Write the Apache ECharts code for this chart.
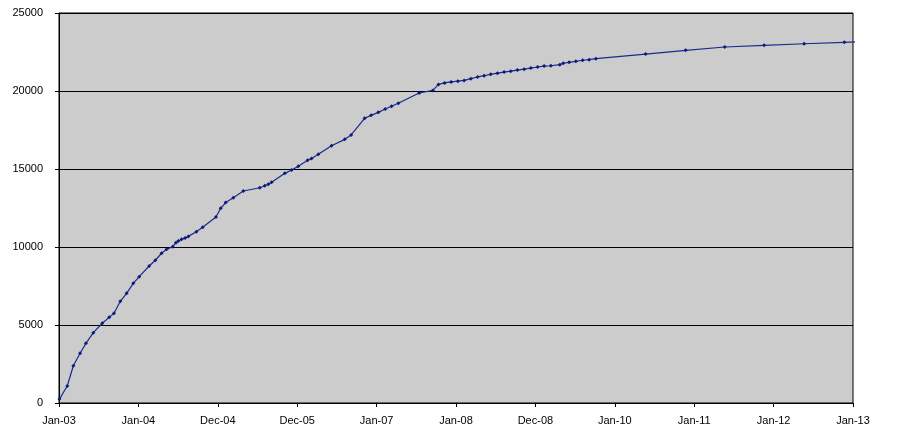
<!DOCTYPE html>
<html>
<head>
<meta charset="utf-8">
<script src="https://cdn.jsdelivr.net/npm/echarts@6/dist/echarts.min.js"></script>
<style>html,body{margin:0;padding:0;background:#fff;}#c{width:897px;height:440px;}</style>
</head>
<body>
<div id="c"></div>
<script>
var dates = ["2003-01-03","2003-02-08","2003-03-08","2003-04-08","2003-05-05","2003-06-08","2003-07-19","2003-08-20","2003-09-11","2003-10-10","2003-11-08","2003-12-09","2004-01-05","2004-02-20","2004-03-19","2004-04-17","2004-05-10","2004-06-07","2004-06-22","2004-07-03","2004-07-18","2004-08-03","2004-08-18","2004-09-24","2004-10-23","2004-12-23","2005-01-14","2005-02-06","2005-03-13","2005-04-28","2005-07-13","2005-08-05","2005-08-21","2005-09-05","2005-11-05","2005-12-06","2006-01-06","2006-02-18","2006-03-08","2006-04-08","2006-06-08","2006-08-08","2006-09-06","2006-11-07","2006-12-07","2007-01-09","2007-02-10","2007-03-11","2007-04-11","2007-07-16","2007-09-17","2007-10-13","2007-11-10","2007-12-10","2008-01-10","2008-02-08","2008-03-10","2008-04-10","2008-05-10","2008-06-09","2008-07-10","2008-08-10","2008-09-09","2008-10-10","2008-11-10","2008-12-11","2009-01-11","2009-02-10","2009-03-13","2009-04-23","2009-05-09","2009-06-05","2009-07-06","2009-08-06","2009-09-05","2009-10-06","2010-05-23","2010-11-23","2011-05-22","2011-11-19","2012-05-21","2012-11-22","2013-05-22"];
var values = [250,1090,2390,3185,3825,4510,5110,5490,5750,6520,7030,7670,8100,8780,9150,9600,9850,10020,10280,10385,10490,10580,10680,10980,11260,11920,12480,12850,13160,13590,13800,13930,14020,14150,14720,14940,15170,15560,15680,15940,16490,16900,17180,18250,18440,18630,18850,19020,19210,19870,20040,20420,20520,20580,20630,20680,20790,20900,20980,21070,21140,21210,21270,21340,21400,21470,21540,21600,21620,21690,21780,21840,21900,21970,22010,22070,22370,22610,22820,22930,23030,23120,23210];
var xTickLabels = ["Jan-03","Jan-04","Dec-04","Dec-05","Jan-07","Jan-08","Dec-08","Jan-10","Jan-11","Jan-12","Jan-13"];

var origin = Date.UTC(2003,0,1);
function dayOf(s){var p=s.split("-");return (Date.UTC(+p[0],+p[1]-1,+p[2])-origin)/86400000;}
var xMax = dayOf("2013-01-01");
var step = xMax/10;
var seriesData = dates.map(function(d,i){return [dayOf(d), values[i]];});

var chart = echarts.init(document.getElementById('c'));
var font = {fontFamily:'Liberation Sans, Arial, sans-serif', fontSize:11, color:'#000'};
chart.setOption({
  animation:false,
  grid:{left:59,right:44,top:13,bottom:37,show:true,backgroundColor:'#cccccc',borderColor:'#000',borderWidth:1},
  xAxis:{type:'value',min:0,max:xMax,interval:step,
    axisLine:{show:true,lineStyle:{color:'#000',width:1}},
    axisTick:{show:true,length:4,lineStyle:{color:'#000'}},
    splitLine:{show:false},
    axisLabel:Object.assign({margin:12,showMaxLabel:true,showMinLabel:true,formatter:function(v){var i=Math.round(v/step);return xTickLabels[i]||'';}},font)
  },
  yAxis:{type:'value',min:0,max:25000,interval:5000,
    axisLine:{show:true,lineStyle:{color:'#000',width:1}},
    axisTick:{show:true,length:4,lineStyle:{color:'#000'}},
    splitLine:{show:true,lineStyle:{color:'#000',width:1}},
    axisLabel:Object.assign({margin:16,formatter:function(v){return String(v);}},font)
  },
  series:[{type:'line',data:seriesData,clip:true,symbol:'diamond',symbolSize:4,showSymbol:true,
    lineStyle:{color:'#1c2a8c',width:1.2},itemStyle:{color:'#0c1a7a'}}]
});
</script>
</body>
</html>
